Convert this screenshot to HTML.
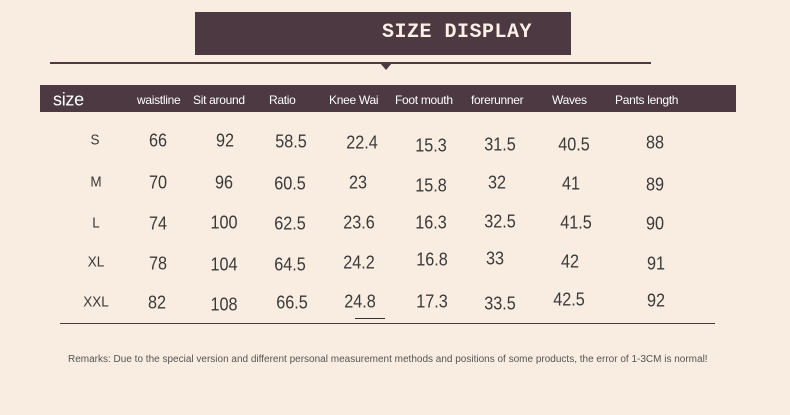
<!DOCTYPE html>
<html><head><meta charset="utf-8"><style>
body{margin:0;width:790px;height:415px;background:#f9ece1;position:relative;overflow:hidden;font-family:"Liberation Sans",sans-serif}
.a{position:absolute}
.t{position:absolute;transform:translate(-50%,-50%) scaleX(0.9);font-size:18px;color:#3a3a3a;white-space:nowrap}
.h{position:absolute;top:100px;transform:translateY(-50%);font-size:12px;color:#fff;white-space:nowrap;letter-spacing:-0.3px}
</style></head><body>
<div class="a" style="left:195px;top:12px;width:376px;height:43px;background:#4c3942"></div>
<div class="a" style="left:382px;top:21px;font-family:'Liberation Mono',monospace;font-size:20px;font-weight:bold;color:#fbefe6;letter-spacing:0.5px">SIZE DISPLAY</div>
<div class="a" style="left:50px;top:62px;width:601px;height:2px;background:#4c3942"></div>
<div class="a" style="left:380px;top:63px;width:0;height:0;border-left:6px solid transparent;border-right:6px solid transparent;border-top:7px solid #4c3942"></div>
<div class="a" style="left:40px;top:85px;width:696px;height:27px;background:#4c3942"></div>
<div class="h" style="left:53px;font-size:18px">size</div>
<div class="h" style="left:137px">waistline</div>
<div class="h" style="left:193px">Sit around</div>
<div class="h" style="left:269px">Ratio</div>
<div class="h" style="left:329px">Knee Wai</div>
<div class="h" style="left:395px">Foot mouth</div>
<div class="h" style="left:471px">forerunner</div>
<div class="h" style="left:552px">Waves</div>
<div class="h" style="left:615px">Pants length</div>

<div class="t" style="left:95px;top:140px;font-size:15px">S</div><div class="t" style="left:158px;top:141px">66</div><div class="t" style="left:225px;top:141px">92</div><div class="t" style="left:291px;top:142px">58.5</div><div class="t" style="left:362px;top:143px">22.4</div><div class="t" style="left:431px;top:146px">15.3</div><div class="t" style="left:500px;top:145px">31.5</div><div class="t" style="left:574px;top:145px">40.5</div><div class="t" style="left:655px;top:143px">88</div>
<div class="t" style="left:96px;top:182px;font-size:15px">M</div><div class="t" style="left:158px;top:183px">70</div><div class="t" style="left:224px;top:183px">96</div><div class="t" style="left:290px;top:184px">60.5</div><div class="t" style="left:358px;top:183px">23</div><div class="t" style="left:431px;top:186px">15.8</div><div class="t" style="left:497px;top:183px">32</div><div class="t" style="left:571px;top:184px">41</div><div class="t" style="left:655px;top:185px">89</div>
<div class="t" style="left:96px;top:223px;font-size:15px">L</div><div class="t" style="left:158px;top:224px">74</div><div class="t" style="left:224px;top:223px">100</div><div class="t" style="left:290px;top:224px">62.5</div><div class="t" style="left:359px;top:223px">23.6</div><div class="t" style="left:431px;top:223px">16.3</div><div class="t" style="left:500px;top:222px">32.5</div><div class="t" style="left:576px;top:223px">41.5</div><div class="t" style="left:655px;top:224px">90</div>
<div class="t" style="left:96px;top:262px;font-size:15px">XL</div><div class="t" style="left:158px;top:264px">78</div><div class="t" style="left:224px;top:265px">104</div><div class="t" style="left:290px;top:265px">64.5</div><div class="t" style="left:359px;top:263px">24.2</div><div class="t" style="left:432px;top:260px">16.8</div><div class="t" style="left:495px;top:259px">33</div><div class="t" style="left:570px;top:262px">42</div><div class="t" style="left:656px;top:264px">91</div>
<div class="t" style="left:96px;top:302px;font-size:15px">XXL</div><div class="t" style="left:157px;top:303px">82</div><div class="t" style="left:224px;top:305px">108</div><div class="t" style="left:292px;top:303px">66.5</div><div class="t" style="left:360px;top:302px">24.8</div><div class="t" style="left:432px;top:302px">17.3</div><div class="t" style="left:500px;top:304px">33.5</div><div class="t" style="left:569px;top:300px">42.5</div><div class="t" style="left:656px;top:301px">92</div>
<div class="a" style="left:355px;top:318px;width:30px;height:1px;background:#333"></div>
<div class="a" style="left:60px;top:323px;width:655px;height:1px;background:#4c3942"></div>
<div class="a" style="left:68px;top:354px;font-size:10px;color:#555;white-space:nowrap">Remarks: Due to the special version and different personal measurement methods and positions of some products, the error of 1-3CM is normal!</div>
</body></html>
